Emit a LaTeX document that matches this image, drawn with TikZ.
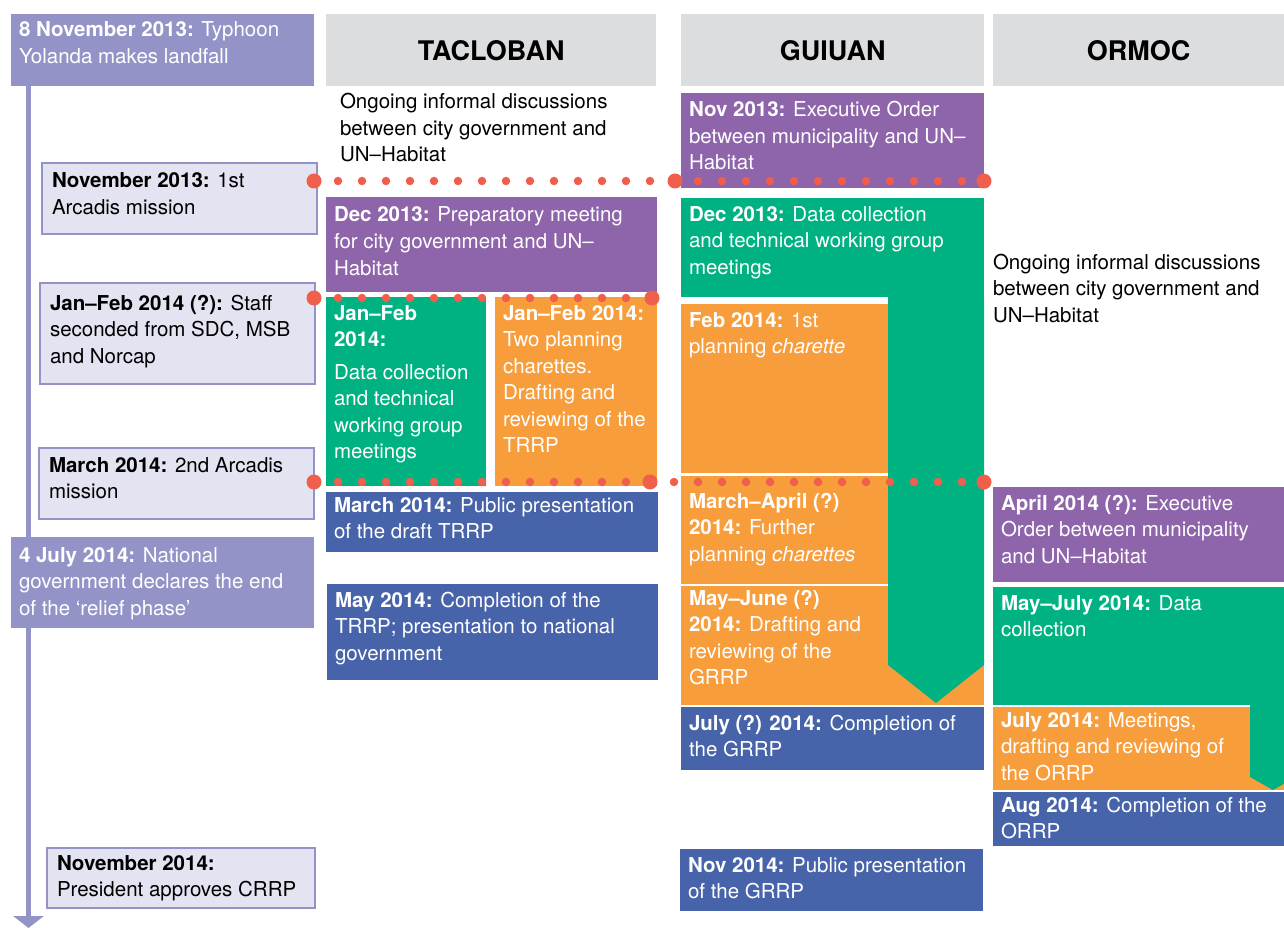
\documentclass[tikz,border=0pt]{standalone}
\usepackage{fontspec}
\setmainfont{TeX Gyre Heros}
\usetikzlibrary{arrows.meta}

\definecolor{lav}{HTML}{9493C7}
\definecolor{lavlight}{HTML}{E4E3F1}
\definecolor{headgray}{HTML}{DCDDDF}
\definecolor{purp}{HTML}{8E64AA}
\definecolor{grn}{HTML}{00B282}
\definecolor{orng}{HTML}{F89D3B}
\definecolor{blu}{HTML}{4763A9}
\definecolor{dotred}{HTML}{EF5F4B}

\newcommand{\evpad}{8pt}
% [first baseline]{name}{style}{x}{y}{width}{height}{text}
\newcommand{\event}[8][24]{%
  \node[#3] (#2) at (#4,#5)
    {\parbox[t][#7pt][t]{#6pt}{\raggedright\leftskip=\evpad\rule{0pt}{#1pt}#8}};}

\begin{document}
\begin{tikzpicture}[x=1pt, y=-1pt,
     evt/.style = {anchor=north west, inner sep=0pt, outer sep=0pt, text=white,
       font=\fontsize{20.5}{26.5}\selectfont},
     lavbox/.style = {evt, fill=lav},
     lightbox/.style = {evt, fill=lavlight, draw=lav, line width=1.5pt, text=black,
       execute at begin node={\def\evpad{10pt}}},
     infotext/.style = {evt, text=black},
     purplebox/.style = {evt, fill=purp},
     greenbox/.style = {evt, fill=grn},
     orangebox/.style = {evt, fill=orng},
     bluebox/.style = {evt, fill=blu},
     head/.style = {anchor=north west, inner sep=0pt, fill=headgray, minimum height=72pt,
       font=\bfseries\fontsize{27}{30}\selectfont},
     bigdot/.style = {circle, fill=dotred, minimum size=15pt, inner sep=0pt},
     dotline/.style = {draw=dotred, line width=8.5pt, line cap=round, dash pattern=on 0pt off 24pt},
     timeline/.style = {draw=lav, line width=5pt, -{Triangle[width=30pt,length=12pt]}}
    ]
    \path[use as bounding box, fill=white] (0,0) rectangle (1284,928);

    % timeline
    \event[23]{typhoon}{lavbox}{11}{14}{303}{72}{\textbf{8 November 2013:} Typhoon\\Yolanda makes landfall}
    \coordinate (tlend) at (28.5,928);
    \draw[timeline] (typhoon.south west -| tlend) -- (tlend);
    \event[25]{arcadis1}{lightbox}{42}{163}{275}{71}{\textbf{November 2013:} 1st\\Arcadis mission}
    \event[27]{staff}{lightbox}{40}{283}{275}{101}{\textbf{Jan--Feb 2014 (?):} Staff\\seconded from SDC, MSB\\and Norcap}
    \event[24]{arcadis2}{lightbox}{39}{448}{275}{71}{\textbf{March 2014:} 2nd Arcadis\\mission}
    \event[25]{relief}{lavbox}{11}{537}{303}{91}{\textbf{4 July 2014:} National\\government declares the end\\of the `relief phase'}
    \event[22]{crrp}{lightbox}{47}{848}{268}{60}{\textbf{November 2014:}\\President approves CRRP}

    % headers
    \node[head, minimum width=330pt] (tacloban) at (326,14) {TACLOBAN};
    \node[head, minimum width=303pt] (guiuan) at (681,14) {GUIUAN};
    \node[head, minimum width=291pt] (ormoc) at (993,14) {ORMOC};

    % Tacloban
    \event[25]{tinfo}{infotext}{332}{84}{324}{90}{Ongoing informal discussions\\between city government and\\UN--Habitat}
    \event[25]{tprep}{purplebox}{326}{197}{331}{95}{\textbf{Dec 2013:} Preparatory meeting\\for city government and UN--\\Habitat}
    \event[23]{tdata}{greenbox}{326}{297}{160}{189}{\textbf{Jan--Feb}\\\textbf{2014:}\\[6pt]Data collection\\and technical\\working group\\meetings}
    \event[23]{tplan}{orangebox}{495}{297}{162}{189}{\textbf{Jan--Feb 2014:}\\Two planning\\charettes.\\Drafting and\\reviewing of the\\TRRP}
    \event[20]{tpublic}{bluebox}{326}{492}{332}{60}{\textbf{March 2014:} Public presentation\\of the draft TRRP}
    \event[23]{tdone}{bluebox}{327}{584}{331}{96}{\textbf{May 2014:} Completion of the\\TRRP; presentation to national\\government}

    % Guiuan
    \event[24]{gorder}{purplebox}{681}{93}{303}{95}{\textbf{Nov 2013:} Executive Order\\between municipality and UN--\\Habitat}
    \event[23]{gdata}{greenbox}{681}{198}{303}{99}{\textbf{Dec 2013:} Data collection\\and technical working group\\meetings}
    \event[23]{gplan1}{orangebox}{681}{304}{207}{169}{\textbf{Feb 2014:} 1st\\planning \textit{charette}}
    \event[32]{gplan2}{orangebox}{681}{476}{207}{108}{\textbf{March--April (?)}\\\textbf{2014:} Further\\planning \textit{charettes}}
    \event[19]{gdraft}{orangebox}{681}{586}{303}{119}{\textbf{May--June (?)}\\\textbf{2014:} Drafting and\\reviewing of the\\GRRP}
    \fill[grn] (gdata.south east) -- ++(0,368) -- ++(-48,38) -- ++(-48,-38) -- ++(0,-368) -- cycle;
    \event[23]{gdone}{bluebox}{681}{707}{303}{63}{\textbf{July (?) 2014:} Completion of\\the GRRP}
    \event[23]{gpublic}{bluebox}{680}{849}{303}{62}{\textbf{Nov 2014:} Public presentation\\of the GRRP}

    % Ormoc
    \event[25]{oinfo}{infotext}{985}{244}{299}{90}{Ongoing informal discussions\\between city government and\\UN--Habitat}
    \event[23]{oorder}{purplebox}{993}{487}{291}{95}{\textbf{April 2014 (?):} Executive\\Order between municipality\\and UN--Habitat}
    \event[23]{odata}{greenbox}{993}{587}{291}{118}{\textbf{May--July 2014:} Data\\collection}
    \event[20]{odraft}{orangebox}{993}{707}{291}{83}{\textbf{July 2014:} Meetings,\\drafting and reviewing of\\the ORRP}
    \fill[grn] (odata.south east) -- ++(0,78.7) -- ++(-11,6.3) -- ++(-23,-13) -- ++(0,-72) -- cycle;
    \event[20]{odone}{bluebox}{993}{792}{291}{54}{\textbf{Aug 2014:} Completion of the\\ORRP}

    % links between the columns
    \node[bigdot] (nov1) at (314,181) {};
    \node[bigdot] (nov2) at (675,181) {};
    \node[bigdot] (nov3) at (984,181) {};
    \node[bigdot] (jan1) at (314,298) {};
    \node[bigdot] (jan2) at (652,298) {};
    \node[bigdot] (mar1) at (314,482) {};
    \node[bigdot] (mar2) at (650,482) {};
    \node[bigdot] (mar3) at (984,482) {};
    \draw[dotline] (nov1.center) -- (nov2.center) -- (nov3.center);
    \draw[dotline] (jan1.center) -- (jan2.center);
    \draw[dotline] (mar1.center) -- (mar2.center) -- (mar3.center);

\end{tikzpicture}
\end{document}
